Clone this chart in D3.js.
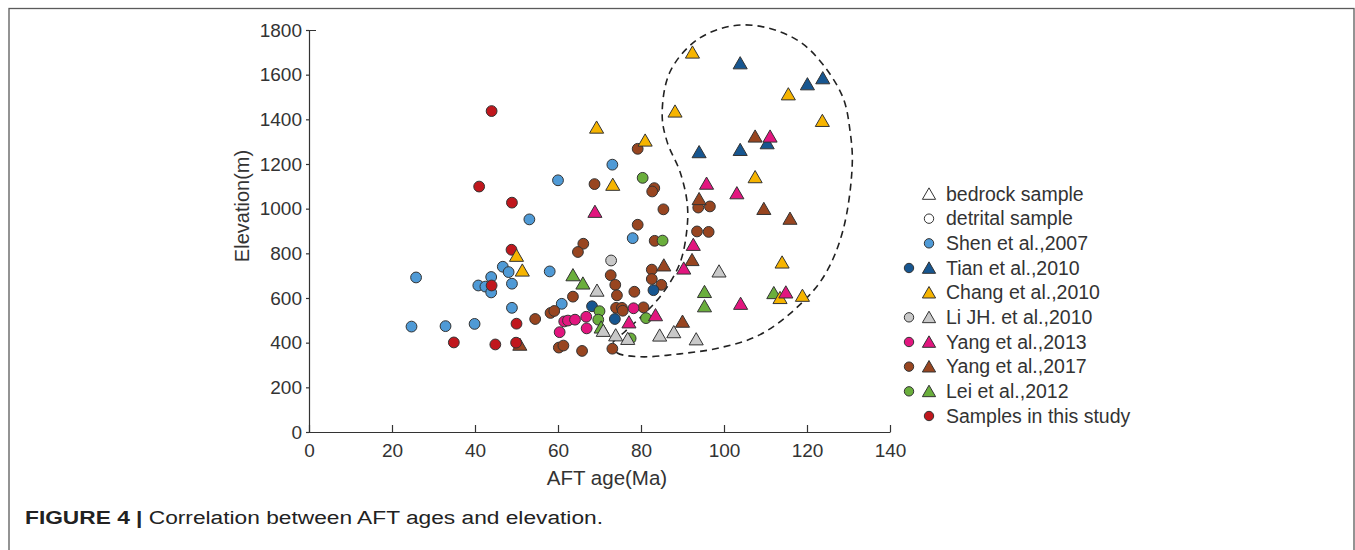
<!DOCTYPE html>
<html>
<head>
<meta charset="utf-8">
<script src="https://cdn.jsdelivr.net/npm/d3@7"></script>
<style>
  html, body {margin: 0; padding: 0; background: #fff;}
  svg {display: block;}
  .tick text {fill: #333;}
</style>
</head>
<body>
<script>
const svgWidth = 1355
const svgHeight = 550

// [AFT age (Ma), elevation (m)]
const shenCircles = [[25.8, 692], [24.7, 472], [32.9, 474], [39.9, 484], [40.8, 656], [42.5, 651],
  [43.9, 694], [43.9, 625], [46.7, 740], [48.1, 716], [48.9, 664], [48.9, 556], [53.1, 952],
  [58.0, 719], [60.9, 574], [60.0, 1127], [73.1, 1197], [78.0, 868]]
const tianCircles = [[68.2, 563], [73.7, 506], [83.0, 635]]
const tianTriangles = [[103.9, 1651], [120.1, 1557], [123.8, 1584], [110.4, 1293], [103.9, 1263], [94.0, 1253]]
const changTriangles = [[92.4, 1699], [88.2, 1435], [69.3, 1363], [81.0, 1305], [73.2, 1107], [115.5, 1512],
  [123.7, 1393], [107.5, 1141], [114.0, 759], [113.5, 600], [118.9, 610], [50.0, 789], [51.4, 723]]
const liCircles = [[72.8, 768]]
const liTriangles = [[69.4, 633], [70.9, 453], [73.9, 433], [76.8, 417], [84.5, 432], [87.9, 447], [93.3, 415], [98.8, 719]]
const yang2013Circles = [[60.4, 447], [61.5, 495], [62.4, 499], [64.1, 503], [66.8, 516], [66.9, 464], [78.2, 554]]
const yang2013Triangles = [[68.9, 986], [95.8, 1112], [103.1, 1069], [111.1, 1323], [92.6, 838], [104.0, 574],
  [114.9, 625], [90.3, 732], [83.5, 523], [77.1, 491]]
const yang2017Circles = [[79.2, 1268], [68.8, 1110], [83.2, 1092], [82.7, 1077], [85.4, 997], [79.2, 928],
  [93.8, 1005], [96.6, 1010], [93.5, 898], [96.3, 896], [83.3, 856], [66.1, 843], [64.8, 806], [72.7, 702],
  [73.8, 659], [74.2, 612], [78.4, 628], [82.6, 727], [82.6, 685], [84.9, 659], [63.6, 606], [54.5, 506],
  [58.2, 533], [59.1, 542], [74.0, 556], [75.4, 556], [75.6, 543], [80.6, 558], [60.2, 378], [61.3, 387],
  [65.8, 363], [73.1, 373]]
const yang2017Triangles = [[107.5, 1323], [109.6, 999], [115.9, 955], [94.0, 1043], [92.3, 770], [85.5, 746], [90.0, 494], [50.8, 391]]
const leiCircles = [[80.4, 1138], [85.2, 857], [70.0, 541], [69.7, 503], [81.2, 510], [77.5, 419]]
const leiTriangles = [[63.6, 702], [66.0, 665], [95.3, 627], [95.3, 563], [112.0, 622], [70.4, 468]]
const studyCircles = [[44.0, 1437], [41.0, 1099], [48.9, 1027], [48.8, 816], [44.0, 656], [50.0, 485],
  [34.9, 401], [44.9, 392], [49.9, 400]]

// dashed envelope around the older ages (age, elevation)
const envelope = [[73.0, 391], [74.2, 355], [79.8, 337], [89.4, 350], [99.0, 377], [108.7, 436], [118.3, 570],
  [124.3, 704], [128.7, 905], [130.9, 1196], [130.4, 1344], [128.7, 1496], [123.9, 1644], [118.3, 1747],
  [110.4, 1810], [102.2, 1819], [93.5, 1756], [87.0, 1613], [85.1, 1420], [86.3, 1299], [89.4, 1165],
  [91.1, 1030], [91.1, 914], [89.4, 757], [85.3, 623], [81.0, 533], [76.1, 449]]

const xTicks = [0, 20, 40, 60, 80, 100, 120, 140]
const yTicks = [0, 200, 400, 600, 800, 1000, 1200, 1400, 1600, 1800]

const legendLabels = ['bedrock sample', 'detrital sample', 'Shen et al.,2007', 'Tian et al.,2010',
  'Chang et al.,2010', 'Li JH. et al.,2010', 'Yang et al.,2013', 'Yang et al.,2017', 'Lei et al.,2012',
  'Samples in this study']

const colors = {
  shen: '#4f9ad6', tian: '#175690', chang: '#f6b400', li: '#c9c9c9',
  yang2013: '#e2167f', yang2017: '#984520', lei: '#6aae3c', study: '#c0171d', open: '#fff'
}

// legend rows: circle column, triangle column (triangle or circle)
const legendMarks = [
  {circle: null, tri: colors.open},
  {circle: null, triCircle: colors.open},
  {circle: null, triCircle: colors.shen},
  {circle: colors.tian, tri: colors.tian},
  {circle: null, tri: colors.chang},
  {circle: colors.li, tri: colors.li},
  {circle: colors.yang2013, tri: colors.yang2013},
  {circle: colors.yang2017, tri: colors.yang2017},
  {circle: colors.lei, tri: colors.lei},
  {circle: null, triCircle: colors.study}
]

const sans = '"Liberation Sans", Arial, sans-serif'

const svg = d3.select('body').append('svg')
  .attr('width', svgWidth).attr('height', svgHeight)

// figure frame
svg.append('rect')
  .attr('x', 9).attr('y', 8.5).attr('width', 1345).attr('height', 560)
  .attr('fill', 'none').attr('stroke', '#5a5a5a').attr('stroke-width', 1.3)

const x = d3.scaleLinear().domain([0, 140]).range([309, 890])
const y = d3.scaleLinear().domain([0, 1800]).range([432, 30])

// x axis, ticks pointing inward
const xAxis = svg.append('g')
  .attr('transform', `translate(0, ${y(0)})`)
  .call(d3.axisBottom(x).tickValues(xTicks).tickSizeInner(-7).tickSizeOuter(0).tickPadding(12))
xAxis.selectAll('text').attr('font-family', sans).attr('font-size', 19)

const yAxis = svg.append('g')
  .attr('transform', `translate(${x(0)}, 0)`)
  .call(d3.axisLeft(y).tickValues(yTicks).tickFormat(d3.format('d')).tickSizeInner(3).tickSizeOuter(-7).tickPadding(4))
yAxis.selectAll('text').attr('font-family', sans).attr('font-size', 19)

svg.selectAll('.domain, .tick line').attr('stroke', '#333').attr('stroke-width', 1.2)

svg.append('text')
  .attr('transform', `translate(249, 206) rotate(-90)`)
  .attr('text-anchor', 'middle')
  .attr('font-family', sans).attr('font-size', 20).attr('fill', '#333')
  .text('Elevation(m)')

svg.append('text')
  .attr('x', 607).attr('y', 485)
  .attr('text-anchor', 'middle')
  .attr('font-family', sans).attr('font-size', 20.5).attr('fill', '#333')
  .text('AFT age(Ma)')

// dashed envelope
svg.append('path')
  .datum(envelope)
  .attr('d', d3.line().x(d => x(d[0])).y(d => y(d[1])).curve(d3.curveCatmullRomClosed))
  .attr('fill', 'none').attr('stroke', '#222').attr('stroke-width', 1.6)
  .attr('stroke-dasharray', '7,5')

const triangle = d3.symbol(d3.symbolTriangle, 86)

const drawCircles = (data, color) => {
  svg.append('g').selectAll('circle').data(data).enter().append('circle')
    .attr('cx', d => x(d[0])).attr('cy', d => y(d[1])).attr('r', 5.4)
    .attr('fill', color).attr('stroke', '#333').attr('stroke-width', 1)
}
const drawTriangles = (data, color) => {
  svg.append('g').selectAll('path').data(data).enter().append('path')
    .attr('d', triangle)
    .attr('transform', d => `translate(${x(d[0])}, ${y(d[1]) + 1.5})`)
    .attr('fill', color).attr('stroke', '#333').attr('stroke-width', 1)
}

drawCircles(shenCircles, colors.shen)
drawCircles(yang2017Circles, colors.yang2017)
drawCircles(liCircles, colors.li)
drawCircles(tianCircles, colors.tian)
drawCircles(yang2013Circles, colors.yang2013)
drawCircles(leiCircles, colors.lei)
drawTriangles(yang2017Triangles, colors.yang2017)
drawCircles(studyCircles, colors.study)
drawTriangles(leiTriangles, colors.lei)
drawTriangles(liTriangles, colors.li)
drawTriangles(changTriangles, colors.chang)
drawTriangles(tianTriangles, colors.tian)
drawTriangles(yang2013Triangles, colors.yang2013)

// legend
const legendY = d3.scalePoint().domain(legendLabels).range([194, 416])
const legend = svg.append('g')
legendLabels.forEach((label, i) => {
  const m = legendMarks[i]
  const cy = legendY(label)
  if (m.circle) {
    legend.append('circle').attr('cx', 909).attr('cy', cy).attr('r', 4.7)
      .attr('fill', m.circle).attr('stroke', '#333').attr('stroke-width', 1)
  }
  if (m.tri) {
    legend.append('path').attr('d', d3.symbol(d3.symbolTriangle, 76))
      .attr('transform', `translate(929, ${cy + 1.5})`)
      .attr('fill', m.tri).attr('stroke', '#333').attr('stroke-width', 1)
  }
  if (m.triCircle) {
    legend.append('circle').attr('cx', 929).attr('cy', cy).attr('r', 4.7)
      .attr('fill', m.triCircle).attr('stroke', '#333').attr('stroke-width', 1)
  }
  legend.append('text').attr('x', 946).attr('y', cy).attr('dy', '0.35em')
    .attr('font-family', sans).attr('font-size', 19.5).attr('fill', '#333')
    .text(label)
})

// caption
const caption = svg.append('text')
  .attr('x', 25).attr('y', 524)
  .attr('font-family', sans).attr('font-size', 18).attr('fill', '#222')
  .attr('textLength', 578).attr('lengthAdjust', 'spacingAndGlyphs')
caption.append('tspan').attr('font-weight', 'bold').text('FIGURE 4 | ')
caption.append('tspan').text('Correlation between AFT ages and elevation.')
</script>
</body>
</html>
